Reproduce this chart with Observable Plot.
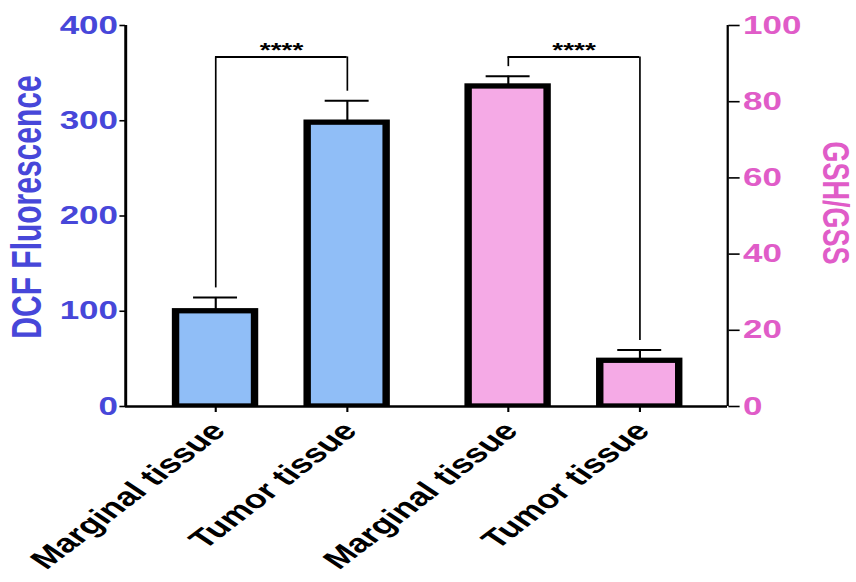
<!DOCTYPE html>
<html><head><meta charset="utf-8">
<script src="https://cdn.jsdelivr.net/npm/d3@7"></script>
<script src="https://cdn.jsdelivr.net/npm/@observablehq/plot@0.6"></script>
<style>html,body{margin:0;padding:0;background:#fff}#chart svg{display:block}</style>
</head><body><div id="chart"></div>
<script>
// ---- data ----
const categories = ["Marginal tissue", "Tumor tissue", "Marginal tissue", "Tumor tissue"];
const groups = ["DCF", "DCF", "GSH", "GSH"];
const means = [100, 298, 84, 12];
const errors = [14.5, 23, 2.7, 2.8];
const dcfTicks = [0, 100, 200, 300, 400];
const gshTicks = [0, 20, 40, 60, 80, 100];
const comparisons = [[0, 1], [2, 3]];
const significance = ["****", "****"];
const leftTitle = "DCF Fluorescence";
const rightTitle = "GSH/GSS";

// ---- layout / style ----
const W = 856, H = 582, STRETCH = 1.4;
const w = W / STRETCH;
const gshScale = 400 / 100;          // right axis 0–100 shares the left 0–400 range
const groupGap = 0.223;               // extra space between the two groups (in bar steps)
const xDomain = [-0.684, 3.89];
const barHalf = 0.3, capHalf = 0.167;
const bracketLevel = 367, legGap = 10;
const blueText = "#4747D9", pinkText = "#E05CC8";
const blueFill = "#90BEF7", pinkFill = "#F5AAE6";

const rows = categories.map((c, i) => {
  const k = groups[i] === "GSH" ? gshScale : 1;
  return {
    label: c, group: groups[i],
    x: i + (groups[i] === "GSH" ? groupGap : 0),
    y: means[i] * k,
    top: (means[i] + errors[i]) * k
  };
});
const labelOf = new Map(rows.map(r => [r.x, r.label]));

const brackets = comparisons.map(([a, b], j) => ({
  xa: rows[a].x, xb: rows[b].x, mid: (rows[a].x + rows[b].x) / 2,
  ya: rows[a].top + legGap, yb: rows[b].top + legGap, text: significance[j]
}));
const legs = brackets.flatMap(b => [{x: b.xa, y1: b.ya}, {x: b.xb, y1: b.yb}]);

const chart = Plot.plot({
  width: w, height: H,
  marginLeft: 89.3, marginRight: w - 519.3, marginTop: 25, marginBottom: H - 406,
  x: {type: "linear", domain: xDomain},
  y: {domain: [0, 400]},
  style: {fontFamily: "'Liberation Sans', Arial, sans-serif", fontWeight: "bold", background: "white", color: "black"},
  marks: [
    // error bars (upper only)
    Plot.ruleX(rows, {x: "x", y1: "y", y2: "top", strokeWidth: 1.5}),
    Plot.ruleY(rows, {y: "top", x1: d => d.x - capHalf, x2: d => d.x + capHalf, strokeWidth: 2}),
    // bars
    Plot.rectY(rows.filter(d => d.group === "DCF"), {x1: d => d.x - barHalf, x2: d => d.x + barHalf, y1: 0, y2: "y", fill: blueFill, stroke: "black", strokeWidth: 5.3, clip: true}),
    Plot.rectY(rows.filter(d => d.group === "GSH"), {x1: d => d.x - barHalf, x2: d => d.x + barHalf, y1: 0, y2: "y", fill: pinkFill, stroke: "black", strokeWidth: 5.3, clip: true}),
    // significance brackets
    Plot.ruleX(legs, {x: "x", y1: "y1", y2: bracketLevel, strokeWidth: 1.2}),
    Plot.ruleY(brackets, {y: bracketLevel, x1: "xa", x2: "xb", strokeWidth: 2}),
    Plot.text(brackets, {x: "mid", y: bracketLevel, text: "text", fontSize: 20, lineAnchor: "middle", dy: -6}),
    // axis lines
    Plot.ruleX([xDomain[0]], {y1: 0, y2: 400, strokeWidth: 2.1}),
    Plot.ruleX([xDomain[1]], {y1: 0, y2: 400, strokeWidth: 1.6}),
    Plot.ruleY([0], {strokeWidth: 2.4}),
    // axes
    Plot.axisY(dcfTicks, {anchor: "left", tickSize: 4, tickPadding: 1.5, fontSize: 25, fill: blueText, stroke: "black", strokeWidth: 1.6}),
    Plot.axisY(gshTicks.map(d => d * gshScale), {anchor: "right", tickFormat: d => d / gshScale, tickSize: 8, tickPadding: 3, fontSize: 25, fill: pinkText, stroke: "black", strokeWidth: 1.6}),
    Plot.axisX(rows.map(r => r.x), {anchor: "bottom", tickSize: 6, text: null, stroke: "black", strokeWidth: 1.5}),
    Plot.axisX(rows.map(r => r.x), {anchor: "bottom", tickSize: 0, tickPadding: 6, tickRotate: -47, tickFormat: d => labelOf.get(d), fontSize: 26, fill: "black", stroke: "none", dx: 2, dy: 14}),
    // axis titles
    Plot.text([leftTitle], {text: d => d, frameAnchor: "left", textAnchor: "middle", lineAnchor: "middle", rotate: -90, dx: -70, dy: -9, fontSize: 30, fill: blueText}),
    Plot.text([rightTitle], {text: d => d, frameAnchor: "right", textAnchor: "middle", lineAnchor: "middle", rotate: 90, dx: 76.5, dy: -13, fontSize: 27, fill: pinkText})
  ]
});

chart.setAttribute("width", W);
chart.setAttribute("height", H);
chart.setAttribute("preserveAspectRatio", "none");
chart.style.width = W + "px";
chart.style.height = H + "px";
chart.style.maxWidth = "none";
document.getElementById("chart").appendChild(chart);
</script>
</body></html>
